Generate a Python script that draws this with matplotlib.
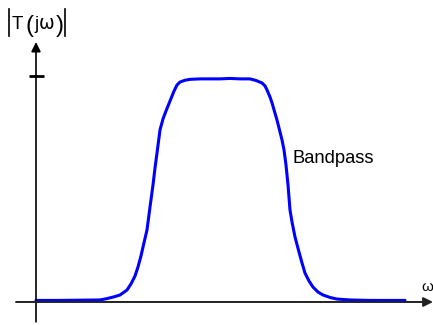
import matplotlib
matplotlib.use("Agg")
import matplotlib.pyplot as plt

# Magnitude response of a bandpass filter (normalised passband gain = 1)
omega = [0.00, 0.24, 0.44, 0.64, 0.71, 0.79, 0.84, 0.91, 0.95, 0.99, 1.02,
         1.05, 1.07, 1.11, 1.14, 1.17, 1.19, 1.21, 1.24, 1.27, 1.30, 1.34,
         1.38, 1.41, 1.44, 1.49, 1.54, 1.64, 1.84, 1.94, 2.04,
         2.14, 2.20, 2.26, 2.29, 2.31, 2.34, 2.36, 2.41, 2.46, 2.48, 2.50,
         2.52, 2.54, 2.56, 2.59, 2.63, 2.66, 2.69, 2.73, 2.77, 2.82, 2.87,
         2.94, 3.01, 3.14, 3.34, 3.69]
magnitude = [0.007, 0.007, 0.008, 0.009, 0.015, 0.024, 0.031, 0.053, 0.080,
             0.115, 0.155, 0.204, 0.243, 0.319, 0.420, 0.518, 0.593, 0.659,
             0.761, 0.810, 0.845, 0.889, 0.933, 0.960, 0.973, 0.981, 0.985,
             0.987, 0.987, 0.989, 0.987, 0.987, 0.980, 0.969,
             0.956, 0.938, 0.907, 0.881, 0.805, 0.717, 0.673, 0.606, 0.518,
             0.407, 0.354, 0.288, 0.221, 0.173, 0.128, 0.093, 0.066, 0.044,
             0.031, 0.020, 0.013, 0.009, 0.007, 0.007]
unit_gain = 1.0

W, H = 433, 325
fig = plt.figure(figsize=(W / 100, H / 100), dpi=100)
ax = fig.add_axes([0, 0, 1, 1])
ax.set_xlim(-0.36, 3.97)
ax.set_ylim(-0.1018, 1.336)
ax.axis("off")

font = "Liberation Sans"

# axes with arrow heads
ax.annotate("", xy=(0, 1.150), xytext=(0, -0.088),
            arrowprops=dict(arrowstyle="-|>", color="black", lw=1.2,
                            mutation_scale=14, shrinkA=0, shrinkB=0))
ax.annotate("", xy=(3.97, 0), xytext=(-0.20, 0),
            arrowprops=dict(arrowstyle="-|>", color="#222222", lw=1.4,
                            mutation_scale=14, shrinkA=0, shrinkB=0))

# unit-gain tick on the vertical axis
ax.plot([-0.07, 0.08], [unit_gain, unit_gain], color="black", lw=2,
        solid_capstyle="butt")

# response curve
ax.plot(omega, magnitude, color="#0000ff", lw=2.2, solid_joinstyle="round",
        solid_capstyle="round")

ax.text(2.57, 0.615, "Bandpass", fontsize=13.2, family=font,
        va="baseline", ha="left", color="black")
ax.text(3.85, 0.049, "ω", fontsize=11, family=font, va="baseline",
        ha="left", color="black")


def fx(px):
    return px / W


def fy(py):
    return 1 - py / H


# |T(jω)| label
fig.text(fx(11.5), fy(29), "T", fontsize=13.5, family=font, va="baseline")
fig.text(fx(25.5), fy(32), "(", fontsize=17, family=font, va="baseline")
fig.text(fx(34), fy(29), "j", fontsize=13.5, family=font, va="baseline")
fig.text(fx(39), fy(29), "ω", fontsize=13.5, family="DejaVu Sans",
         va="baseline")
fig.text(fx(56), fy(32), ")", fontsize=17, family=font, va="baseline")
for bx in (9, 65):
    fig.add_artist(plt.Line2D([fx(bx), fx(bx)], [fy(9), fy(36)],
                              color="black", lw=1.2))

fig.savefig("out.png", dpi=100)
